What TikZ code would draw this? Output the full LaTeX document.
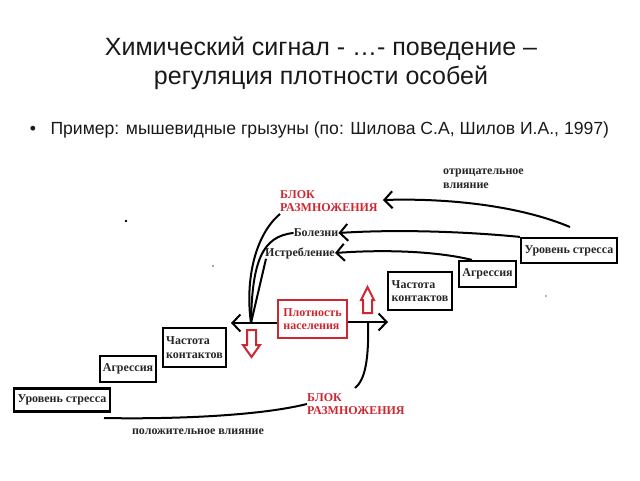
\documentclass[tikz,border=0pt]{standalone}
\usepackage{fontspec}
\setmainfont{Liberation Serif}
\newfontfamily\sansf{Liberation Sans}
\usetikzlibrary{arrows.meta}
\definecolor{redd}{RGB}{205,40,50}
\begin{document}
\begin{tikzpicture}[x=1pt,y=-1pt,
  box/.style={draw,line width=2.2pt,inner sep=2pt,font=\fontsize{12}{13.5}\selectfont\bfseries,text=black!85},
  rbox/.style={box,draw=redd,text=redd},
  lbl/.style={inner sep=0pt,font=\fontsize{12}{13.5}\selectfont\bfseries,text=black!85,align=left},
  rlbl/.style={lbl,text=redd},
  con/.style={line width=2pt},
  arr/.style={con,-{Straight Barb[length=8pt,width=17pt,line width=2pt]}},
  hol/.style={draw=redd,line width=2pt,fill=white}]
\useasboundingbox (0,0) rectangle (640,480);
% title
\node[font=\sansf\fontsize{25}{29}\selectfont,align=center,text=black!90] (title) at (321,63) {Химический сигнал - …- поведение –\\регуляция плотности особей};
\node[font=\sansf\fontsize{17.6}{20}\selectfont,text=black!90] (bul) at (33,130) {•};
\node[font=\sansf\fontsize{17.6}{20}\selectfont,anchor=west,text=black!90] (ex) at (47,130) {Пример: мышевидные грызуны (по: Шилова С.А, Шилов И.А., 1997)};
% boxes
\node[box,minimum width=96pt,minimum height=23pt] (stressL) at (62,400) {Уровень стресса};
\node[box,minimum width=56pt,minimum height=26pt] (aggrL) at (128,369) {Агрессия};
\node[box,minimum width=63pt,minimum height=39pt,align=left] (freqL) at (194.5,347.5) {Частота\\контактов};
\node[rbox,minimum width=69pt,minimum height=38pt,align=left] (dens) at (312.5,319) {Плотность\\населения};
\node[box,minimum width=64pt,minimum height=38pt,align=left] (freqR) at (420,291) {Частота\\контактов};
\node[box,minimum width=57pt,minimum height=26pt] (aggrR) at (487.5,274) {Агрессия};
\node[box,minimum width=96pt,minimum height=25pt] (stressR) at (569,250.5) {Уровень стресса};
% labels
\node[rlbl,anchor=north west] (blockT) at (280,190) {БЛОК\\РАЗМНОЖЕНИЯ};
\node[lbl] (bol) at (316,233) {Болезни};
\node[lbl] (istr) at (300,253) {Истребление};
\node[lbl,anchor=north west] (otr) at (443,169) {отрицательное\\влияние};
\node[rlbl,anchor=north west] (blockB) at (307,393) {БЛОК\\РАЗМНОЖЕНИЯ};
\node[lbl] (pol) at (198,432) {положительное влияние};
% coordinates
\coordinate (s1) at (570,227);
\coordinate (t1) at (383,200);
\coordinate (hub) at (251,323);
\coordinate (lt) at (231,323);
\coordinate (rt) at (388,322);
\coordinate (v1) at (368,322);
\coordinate (v2) at (355,388);
\coordinate (p1) at (104,418);
% arrows right part
\draw[arr] (s1) .. controls (520,206) and (450,198) .. (t1);
\draw[arr] (stressR.north west) .. controls (470,232) and (400,229) .. (bol.east);
\draw[arr] ([xshift=14pt]aggrR.north west) .. controls (440,252) and (390,249) .. (istr.east);
% converging lines
\draw[con] ([yshift=-2pt]blockT.south west) .. controls (255,235) and (245,280) .. (hub);
\draw[con] (bol.west) .. controls (262,236) and (252,262) .. (hub);
\draw[con] ([xshift=1pt]istr.south west) -- (hub);
% horizontal arrows
\draw[arr] (dens.west |- hub) -- (lt);
\draw[arr] (dens.east |- rt) -- (rt);
\draw[con] (v1) .. controls (369,360) and (365,380) .. (v2);
\draw[con] (blockB.west) .. controls (250,418) and (150,419) .. (p1);
% hollow red arrows
\draw[hol] (247,330) -- (256,330) -- (256,345) -- (260,345) -- (251.5,357) -- (243,345) -- (247,345) -- cycle;
\draw[hol] (363,313) -- (372,313) -- (372,300) -- (374,300) -- (367.5,287) -- (361,300) -- (363,300) -- cycle;
% stray dots
\fill (126,221) circle (1.3pt);
\fill[black!70] (213,266) circle (0.8pt);
\fill[black!60] (546,296) circle (0.8pt);
\end{tikzpicture}
\end{document}
